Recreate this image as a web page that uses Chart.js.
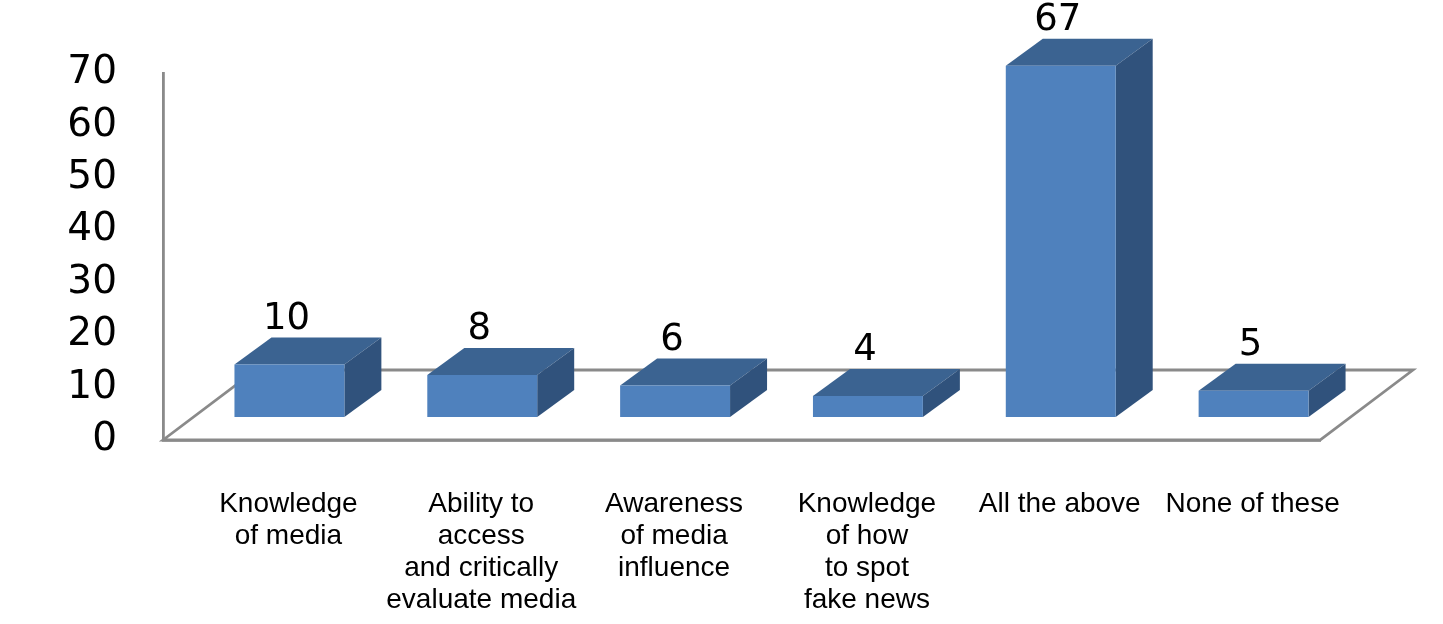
<!DOCTYPE html>
<html>
<head>
<meta charset="utf-8">
<title>Media literacy</title>
<script src="https://cdn.jsdelivr.net/npm/chart.js@4.4.1/dist/chart.umd.min.js"></script>
<style>
  html, body { margin: 0; padding: 0; background: #fff; }
  canvas { display: block; }
</style>
</head>
<body>
<canvas id="chart" width="1443" height="624"></canvas>
<script>
const categories = [
    ['Knowledge', 'of media'],
    ['Ability to', 'access', 'and critically', 'evaluate media'],
    ['Awareness', 'of media', 'influence'],
    ['Knowledge', 'of how', 'to spot', 'fake news'],
    'All the above',
    'None of these',
];
const responses = [10, 8, 6, 4, 67, 5];
const yTicks = [0, 10, 20, 30, 40, 50, 60, 70];

// 3D look: the bar row sits a bit behind the front edge of the floor
const ROW_DX = 30, ROW_DY = -23;
const BAR_DX = 37, BAR_DY = -27;
const FLOOR_DX = 93, FLOOR_DY = -70;
const LINE_GREY = '#8a8a8a';

const fake3d = {
    id: 'fake3d',
    beforeDatasetsDraw(chart) {
        const { ctx, chartArea: a } = chart;
        // floor
        ctx.save();
        ctx.beginPath();
        ctx.moveTo(a.left, a.bottom);
        ctx.lineTo(a.right, a.bottom);
        ctx.lineTo(a.right + FLOOR_DX, a.bottom + FLOOR_DY);
        ctx.lineTo(a.left + FLOOR_DX, a.bottom + FLOOR_DY);
        ctx.closePath();
        ctx.fillStyle = '#ffffff';
        ctx.fill();
        ctx.strokeStyle = LINE_GREY;
        ctx.lineWidth = 2.8;
        ctx.stroke();
        ctx.restore();

        // shift the row of bars, then add tops and sides
        ctx.save();
        ctx.translate(ROW_DX, ROW_DY);
        chart.getDatasetMeta(0).data.forEach(bar => {
            const { x, y, base, width } = bar.getProps(['x', 'y', 'base', 'width'], true);
            const l = x - width / 2, r = x + width / 2;
            ctx.beginPath();
            ctx.moveTo(l, y);
            ctx.lineTo(r, y);
            ctx.lineTo(r + BAR_DX, y + BAR_DY);
            ctx.lineTo(l + BAR_DX, y + BAR_DY);
            ctx.closePath();
            ctx.fillStyle = '#3b6391';
            ctx.fill();

            ctx.beginPath();
            ctx.moveTo(r, y);
            ctx.lineTo(r + BAR_DX, y + BAR_DY);
            ctx.lineTo(r + BAR_DX, base + BAR_DY);
            ctx.lineTo(r, base);
            ctx.closePath();
            ctx.fillStyle = '#30527c';
            ctx.fill();
        });
    },
    afterDatasetsDraw(chart) {
        const { ctx } = chart;
        ctx.restore();

        // value labels above each bar
        ctx.save();
        ctx.font = '37px "DejaVu Sans"';
        ctx.fillStyle = '#000';
        ctx.textAlign = 'center';
        ctx.textBaseline = 'alphabetic';
        const meta = chart.getDatasetMeta(0);
        meta.data.forEach((bar, i) => {
            const { x, y } = bar.getProps(['x', 'y'], true);
            ctx.fillText(String(responses[i]), x + ROW_DX - 3, y + ROW_DY + BAR_DY - 9);
        });
        ctx.restore();
    }
};

new Chart(document.getElementById('chart'), {
    type: 'bar',
    data: {
        labels: categories,
        datasets: [{
            data: responses,
            backgroundColor: '#4f81bd',
            borderWidth: 0,
            categoryPercentage: 1,
            barPercentage: 0.57,
        }],
    },
    options: {
        responsive: false,
        animation: false,
        layout: { padding: { top: 73, right: 123, left: 0, bottom: 0 } },
        plugins: {
            legend: { display: false },
            tooltip: { enabled: false },
        },
        scales: {
            x: {
                grid: { display: false, drawTicks: false },
                border: { display: true, color: LINE_GREY, width: 2.8 },
                ticks: {
                    color: '#000',
                    font: { family: '"Liberation Sans", Arial, sans-serif', size: 28, lineHeight: 1.143 },
                    padding: 48,
                    labelOffset: 29,
                    maxRotation: 0,
                    minRotation: 0,
                    autoSkip: false,
                },
                afterFit(scale) { scale.height = 184; },
            },
            y: {
                min: yTicks[0],
                max: yTicks[yTicks.length - 1],
                afterBuildTicks(scale) { scale.ticks = yTicks.map(v => ({ value: v })); },
                grid: { display: false, drawTicks: false },
                border: { display: true, color: LINE_GREY, width: 2.8 },
                ticks: {
                    color: '#000',
                    font: { family: '"DejaVu Sans", sans-serif', size: 39 },
                    padding: 46,
                },
                afterFit(scale) { scale.width = 163; },
            },
        },
    },
    plugins: [fake3d],
});
</script>
</body>
</html>
